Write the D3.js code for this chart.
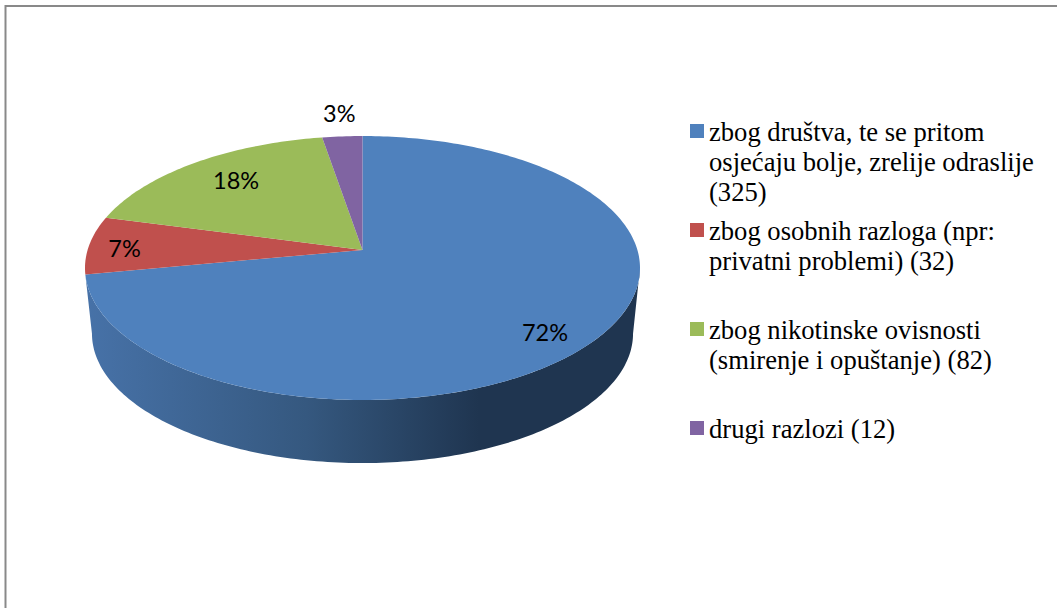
<!DOCTYPE html>
<html lang="hr">
    <head>
        <meta charset="UTF-8">
        <title>Razlozi pušenja</title>
        <style>
            body { margin: 0; padding: 0; background: white; overflow: hidden; }
            .pct { font-family: Lato, sans-serif; font-size: 23.5px; fill: black; text-anchor: middle; }
            .legend { font-family: "Liberation Serif", serif; font-size: 26.6px; fill: black; }
        </style>
    </head>
    <body>
        <svg id="chart" width="1057" height="608"></svg>

        <script src="https://d3js.org/d3.v7.min.js"></script>
        <script>
            const categories = ['društva', 'osobni', 'nikotin', 'drugi'];
            const counts = [325, 32, 82, 12];
            const percentLabels = ['72%', '7%', '18%', '3%'];
            const colors = ['#4f81bd', '#c0504d', '#9bbb59', '#8064a2'];
            const legendLines = [
                ['zbog društva, te se pritom', 'osjećaju bolje, zrelije odraslije', '(325)'],
                ['zbog osobnih razloga (npr:', 'privatni problemi) (32)'],
                ['zbog nikotinske ovisnosti', '(smirenje i opuštanje) (82)'],
                ['drugi razlozi (12)']
            ];

            const svg = d3.select('#chart');

            // frame of the chart, runs off the right and bottom of the picture
            svg.append('path')
                .attr('d', 'M5.5,608V6H1057')
                .attr('fill', 'none')
                .attr('stroke', '#898989')
                .attr('stroke-width', 2);

            // the pie is a flat disc seen in perspective, k makes the near edge bigger
            const k = 0.1364;
            function project(angle, r, disc) {
                const u = Math.sin(angle) * r;
                const v = -Math.cos(angle) * r;
                const d = 1 - k * v;
                return [disc.cx + disc.rx * u / d, disc.cy + disc.ry * v / d];
            }
            const topDisc = { cx: 362.5, cy: 250, rx: 274.9, ry: 129.5 };
            const bottomDisc = { cx: 362.5, cy: 316, rx: 268, ry: 127 };

            const pie = d3.pie().sort(null);
            const arcs = pie(counts);
            const line = d3.line();

            function rim(a0, a1, disc) {
                const step = Math.PI / 180;
                const n = Math.max(1, Math.ceil((a1 - a0) / step));
                return d3.range(n + 1).map(i => project(a0 + (a1 - a0) * i / n, 1, disc));
            }

            const defs = svg.append('defs');
            const grad = defs.append('linearGradient')
                .attr('id', 'sideBlue')
                .attr('gradientUnits', 'userSpaceOnUse')
                .attr('x1', 85).attr('x2', 640).attr('y1', 0).attr('y2', 0);
            [[0, '#4772a8'], [0.4, '#35587f'], [0.71, '#1f3550'], [1, '#1f3550']].forEach(s => {
                grad.append('stop').attr('offset', s[0]).attr('stop-color', s[1]);
            });

            // side wall, only the blue slice faces the viewer
            const sideStart = Math.acos(-k);
            const sideEnd = 2 * Math.PI - sideStart;
            const sidePts = rim(sideStart, arcs[0].endAngle, topDisc)
                .concat(rim(sideStart, sideEnd, bottomDisc).reverse());
            svg.append('path')
                .attr('d', line(sidePts) + 'Z')
                .attr('fill', 'url(#sideBlue)');

            // top face
            svg.selectAll('.slice')
                .data(arcs)
                .enter().append('path')
                .attr('class', 'slice')
                .attr('d', d => line([[topDisc.cx, topDisc.cy]].concat(rim(d.startAngle, d.endAngle, topDisc))) + 'Z')
                .attr('fill', (d, i) => colors[i]);

            // percent labels, placed along each slice's middle angle
            const labelRadius = [0.88, 0.87, 0.69, 1.17];
            const labelNudge = [[-19, 4], [0, 3], [-7, -7], [0, -6]];
            svg.selectAll('.pct')
                .data(arcs)
                .enter().append('text')
                .attr('class', 'pct')
                .attr('x', (d, i) => project((d.startAngle + d.endAngle) / 2, labelRadius[i], topDisc)[0] + labelNudge[i][0])
                .attr('y', (d, i) => project((d.startAngle + d.endAngle) / 2, labelRadius[i], topDisc)[1] + labelNudge[i][1])
                .attr('dy', '0.35em')
                .text((d, i) => percentLabels[i]);

            // legend
            const legendTop = [124, 223, 322, 421];
            const legend = svg.selectAll('.entry')
                .data(categories)
                .enter().append('g')
                .attr('class', 'entry')
                .attr('transform', (d, i) => `translate(690, ${legendTop[i]})`);
            legend.append('rect')
                .attr('width', 14)
                .attr('height', 14)
                .attr('fill', (d, i) => colors[i]);
            legend.each(function (d, i) {
                d3.select(this).selectAll('text')
                    .data(legendLines[i])
                    .enter().append('text')
                    .attr('class', 'legend')
                    .attr('x', 19)
                    .attr('y', (t, j) => 17 + j * 30)
                    .text(t => t);
            });
        </script>
    </body>
</html>
